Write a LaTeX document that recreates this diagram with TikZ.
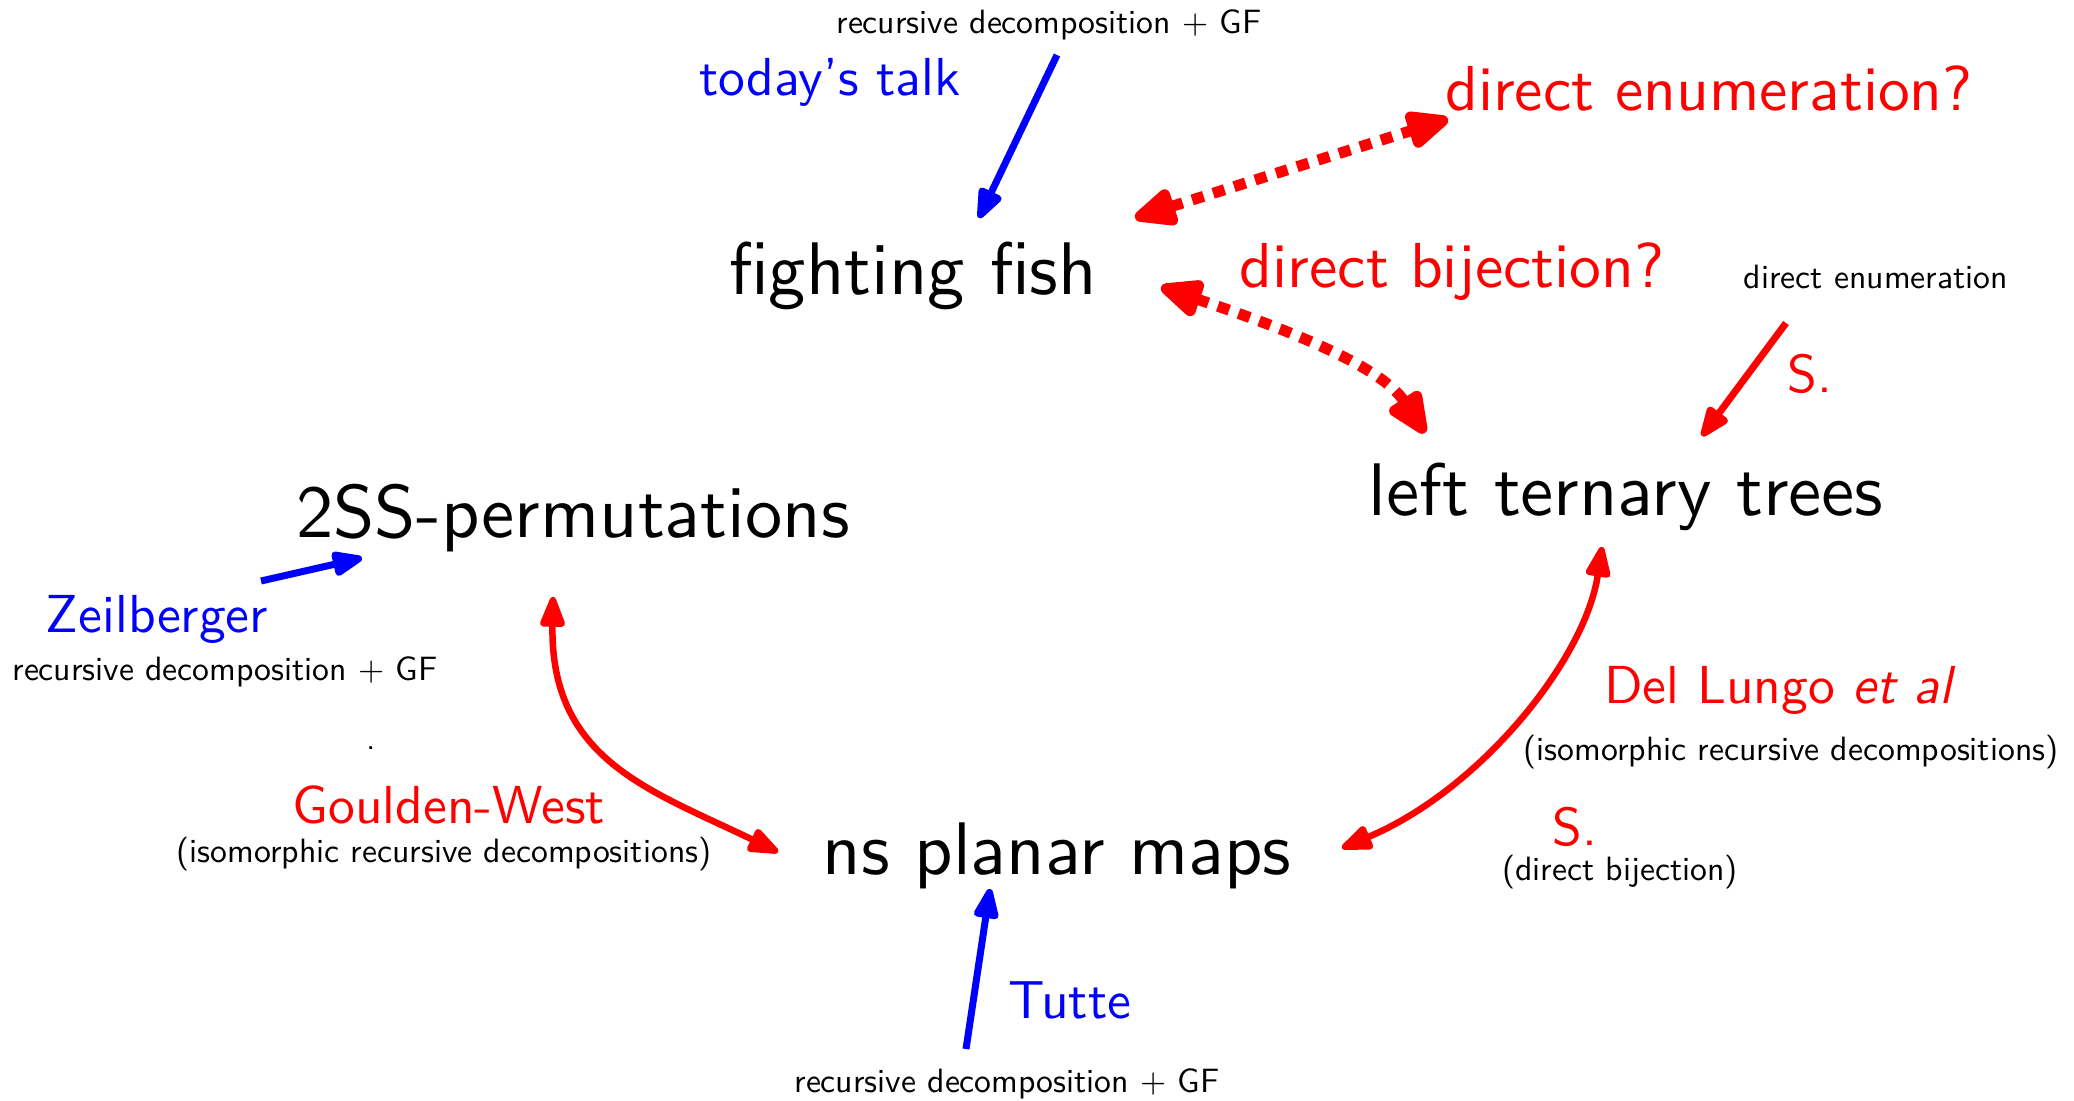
\documentclass[tikz,border=0pt]{standalone}
\usepackage{fontspec}
\setsansfont{lmsans10-regular.otf}[ItalicFont=lmsans10-oblique.otf,BoldFont=lmsans10-bold.otf]
\usetikzlibrary{arrows.meta,calc}

\begin{document}
\begin{tikzpicture}[x=1pt,y=-1pt,
  every node/.style={inner sep=0pt,anchor=base},
  big/.style={font=\sffamily\fontsize{74.5}{80}\selectfont},
  lbl/.style={font=\sffamily\fontsize{53.5}{60}\selectfont},
  qlbl/.style={font=\sffamily\fontsize{63.5}{70}\selectfont},
  note/.style={font=\sffamily\fontsize{33.7}{40}\selectfont},
  arr/.style={line width=7pt,-{Triangle[length=36pt,width=26pt,round]}},
  darr/.style={line width=6.5pt,{Triangle[length=36pt,width=26pt,round]}-{Triangle[length=36pt,width=26pt,round]}},
  dashedarr/.style={line width=11pt,dash pattern=on 12pt off 10pt,
    {Triangle[length=50pt,width=40pt,round]}-{Triangle[length=50pt,width=40pt,round]}}]
\useasboundingbox (0,0) rectangle (2074,1100);

% main classes
\node[big] (fish)  at (913,294)  {fighting fish};
\node[big] (perm)  at (573,537)  {2SS-permutations};
\node[big] (trees) at (1626,515) {left ternary trees};
\node[big] (maps)  at (1057,874) {ns planar maps};

% annotations
\node[note] (topsrc) at (1049,33) {recursive decomposition + GF};
\node[lbl,blue] (talk) at (830,95) {today’s talk};
\node[qlbl,red] (denumq) at (1709,110) {direct enumeration?};
\node[qlbl,red] (dbijq) at (1452,287) {direct bijection?};
\node[note] (denum) at (1876,288) {direct enumeration};
\node[lbl,red] (sup) at (1810,392) {S.};
\node[lbl,blue] (zeil) at (157,632) {Zeilberger};
\node[note] (zeilsrc) at (225,680) {recursive decomposition + GF};
\node[note] (dot) at (371,749) {.};
\node[lbl,red] (gw) at (449,823) {Goulden-West};
\node[note] (gwnote) at (444,862) {(isomorphic recursive decompositions)};
\node[lbl,red] (dl) at (1780,703) {Del Lungo \textit{et al}};
\node[note] (dlnote) at (1791,760) {(isomorphic recursive decompositions)};
\node[lbl,red] (slow) at (1575,845) {S.};
\node[note] (slownote) at (1620,880) {(direct bijection)};
\node[lbl,blue] (tutte) at (1070,1018) {Tutte};
\node[note] (tuttesrc) at (1007,1092) {recursive decomposition + GF};

% enumeration results
\draw[arr,blue] ($(topsrc.base)+(8,22)$) -- ($(fish.base)+(66,-76)$);
\draw[arr,blue] ($(zeil.base)+(104,-51)$) -- ($(perm.base)+(-211,21)$);
\draw[arr,blue] ($(tuttesrc.base)+(-41,-43)$) -- ($(maps.base)+(-67,15)$);
\draw[arr,red]  ($(denum.base)+(-90,35)$) -- ($(trees.base)+(76,-79)$);

% open questions
\draw[dashedarr,red] ($(fish.base)+(222,-76)$) -- ($(denumq.base)+(-261,9)$);
\draw[dashedarr,red] ($(fish.base)+(248,-7)$)
  .. controls +(110,37) and +(-46,-70) .. ($(trees.base)+(-201,-82)$);

% known bijections
\draw[darr,red] ($(perm.base)+(-20,60)$)
  .. controls +(-3,163) and +(-128,-62) .. ($(maps.base)+(-279,-22)$);
\draw[darr,red] ($(trees.base)+(-24,32)$)
  .. controls +(-17,113) and +(138,-58) .. ($(maps.base)+(285,-26)$);
\end{tikzpicture}
\end{document}
